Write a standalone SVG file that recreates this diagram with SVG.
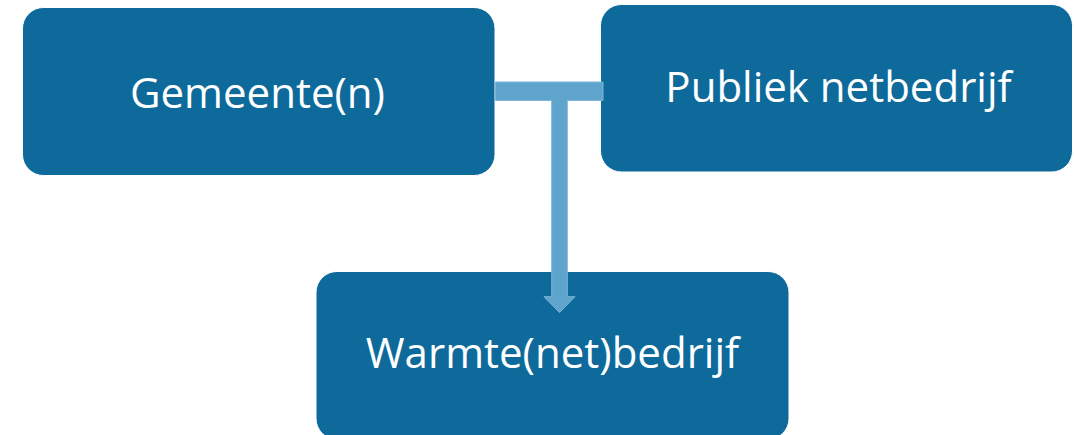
<svg xmlns="http://www.w3.org/2000/svg" width="1074" height="435" viewBox="0 0 1074 435">
<style>
.box{fill:#0d6a9b;stroke:#ffffff;stroke-width:1}
.lbl{fill:#ffffff;font-family:"Open Sans","Liberation Sans",sans-serif;font-size:42px;text-anchor:middle}
.conn{fill:#5fa4cc;stroke:#7cb6d8;stroke-width:1}
</style>
<rect width="1074" height="435" fill="#ffffff"/>
<g id="node-gemeente">
<rect class="box" x="22.5" y="7.5" width="472.5" height="168" rx="21"/>
<text class="lbl" x="257.5" y="108">Gemeente(n)</text>
</g>
<g id="node-publiek">
<rect class="box" x="600.5" y="4.5" width="472" height="167.5" rx="21"/>
<text class="lbl" x="838.5" y="102">Publiek netbedrijf</text>
</g>
<g id="node-warmte">
<rect class="box" x="316" y="271.5" width="473" height="168" rx="21"/>
<text class="lbl" x="552.5" y="368">Warmte(net)bedrijf</text>
</g>
<g id="connectors">
<path class="conn" d="M495.5,82 H603 V100.5 H567.3 V296.7 H575 L559.5,312.5 L544,296.7 H551.7 V100.5 H495.5 Z"/>
</g>
</svg>
